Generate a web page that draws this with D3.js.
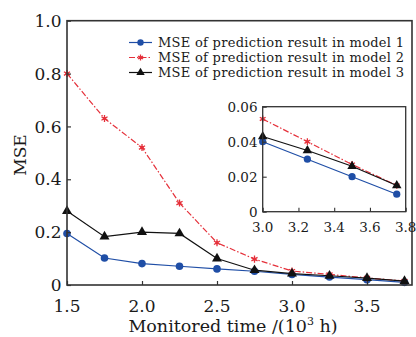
<!DOCTYPE html>
<html>
<head>
<meta charset="utf-8">
<script src="https://cdn.jsdelivr.net/npm/d3@7"></script>
<style>
  body { margin: 0; background: #fff; }
  svg { display: block; font-family: "DejaVu Serif", serif; }
</style>
</head>
<body>
<div id="chart"></div>
<script>
"use strict";

const times = [1.5, 1.75, 2.0, 2.25, 2.5, 2.75, 3.0, 3.25, 3.5, 3.75];
const model1 = [0.195, 0.102, 0.081, 0.071, 0.061, 0.052, 0.040, 0.030, 0.020, 0.010];
const model2 = [0.80, 0.63, 0.52, 0.31, 0.160, 0.098, 0.053, 0.040, 0.027, 0.015];
const model3 = [0.28, 0.183, 0.20, 0.195, 0.100, 0.056, 0.043, 0.035, 0.026, 0.015];
const seriesNames = [
  "MSE of prediction result in model 1",
  "MSE of prediction result in model 2",
  "MSE of prediction result in model 3"
];
const xTicks = [1.5, 2.0, 2.5, 3.0, 3.5];
const yTicks = [0, 0.2, 0.4, 0.6, 0.8, 1.0];
const insetXTicks = [3.0, 3.2, 3.4, 3.6, 3.8];
const insetYTicks = [0, 0.02, 0.04, 0.06];

const width = 416;
const height = 337;
const frameColor = "#333";
const textColor = "#1a1a1a";
const styles = [
  { color: "#1f4ea6", dash: null, marker: "circle" },
  { color: "#e5303a", dash: "6,2,1.5,2", marker: "star" },
  { color: "#111", dash: null, marker: "triangle" }
];
const allSeries = [model1, model2, model3];

const svg = d3.select("#chart")
  .append("svg")
  .attr("width", width)
  .attr("height", height)
;

// main plot area
const m = { left: 67, right: 412, top: 20.7, bottom: 285 };
const xScale = d3.scaleLinear().domain([1.5, 3.8]).range([m.left, m.right]);
const yScale = d3.scaleLinear().domain([0, 1]).range([m.bottom, m.top]);

function drawMarker(g, type, x, y, color, size) {
  if (type === "circle") {
    g.append("circle").attr("cx", x).attr("cy", y).attr("r", size).attr("fill", color);
  } else if (type === "triangle") {
    g.append("path")
      .attr("d", d3.symbol(d3.symbolTriangle, size * size * 3)())
      .attr("transform", `translate(${x},${y})`)
      .attr("fill", color);
  } else {
    g.append("path")
      .attr("d", d3.symbol(d3.symbolAsterisk, size * size * 2.4)())
      .attr("transform", `translate(${x},${y})`)
      .attr("stroke", color)
      .attr("stroke-width", 1.3)
      .attr("fill", "none");
    g.append("circle").attr("cx", x).attr("cy", y).attr("r", size * 0.45).attr("fill", color);
  }
}

function drawSeries(g, xs, ys, xS, yS, mSize) {
  ys.forEach((vals, i) => {
    const pts = xs.map((t, j) => [t, vals[j]]).filter(p => p[0] >= xS.domain()[0] - 1e-9);
    const line = d3.line().x(d => xS(d[0])).y(d => yS(d[1]));
    g.append("path")
      .datum(pts)
      .attr("d", line)
      .attr("fill", "none")
      .attr("stroke", styles[i].color)
      .attr("stroke-width", 1.2)
      .attr("stroke-dasharray", styles[i].dash);
    pts.forEach(p => drawMarker(g, styles[i].marker, xS(p[0]), yS(p[1]), styles[i].color, mSize));
  });
}

const mainG = svg.append("g");
drawSeries(mainG, times, allSeries, xScale, yScale, 3.8);

// axes with inward ticks
const xAxis = d3.axisTop(xScale).tickValues(xTicks).tickSize(4).tickFormat("");
const yAxis = d3.axisRight(yScale).tickValues(yTicks).tickSize(4).tickFormat("");
svg.append("g").attr("transform", `translate(0,${m.bottom})`).call(xAxis)
  .call(g => g.select(".domain").remove())
  .selectAll("line").attr("stroke", frameColor).attr("stroke-width", 1.2);
svg.append("g").attr("transform", `translate(${m.left},0)`).call(yAxis)
  .call(g => g.select(".domain").remove())
  .selectAll("line").attr("stroke", frameColor).attr("stroke-width", 1.2);

svg.append("rect")
  .attr("x", m.left).attr("y", m.top)
  .attr("width", m.right - m.left).attr("height", m.bottom - m.top)
  .attr("fill", "none").attr("stroke", frameColor).attr("stroke-width", 1.6);

svg.selectAll(".xlab")
  .data(xTicks)
  .enter()
  .append("text")
  .attr("x", d => xScale(d))
  .attr("y", 311.5)
  .attr("text-anchor", "middle")
  .attr("font-size", 17)
  .attr("fill", textColor)
  .text(d => d.toFixed(1));

svg.selectAll(".ylab")
  .data(yTicks)
  .enter()
  .append("text")
  .attr("x", 61.5)
  .attr("y", d => yScale(d) + 6.2)
  .attr("text-anchor", "end")
  .attr("font-size", 17)
  .attr("fill", textColor)
  .text(d => d === 0 ? "0" : d.toFixed(1));

svg.append("text")
  .attr("x", 233)
  .attr("y", 332)
  .attr("text-anchor", "middle")
  .attr("font-size", 17.5)
  .attr("fill", textColor)
  .html('Monitored time /(10<tspan font-size="11" dy="-7">3</tspan><tspan dy="7"> h)</tspan>');

svg.append("text")
  .attr("transform", "translate(26,155) rotate(-90)")
  .attr("text-anchor", "middle")
  .attr("font-size", 17)
  .attr("fill", textColor)
  .text("MSE");

// legend
const legend = svg.append("g");
seriesNames.forEach((name, i) => {
  const y = 42.5 + i * 15;
  legend.append("line")
    .attr("x1", 129).attr("x2", 152).attr("y1", y).attr("y2", y)
    .attr("stroke", styles[i].color).attr("stroke-width", 1.2)
    .attr("stroke-dasharray", styles[i].dash);
  drawMarker(legend, styles[i].marker, 140.5, y, styles[i].color, 3.2);
  legend.append("text")
    .attr("x", 158).attr("y", y + 4.8)
    .attr("font-size", 13)
    .attr("fill", textColor)
    .attr("textLength", 246)
    .text(name);
});

// inset
const im = { left: 262.7, right: 405.7, top: 106.7, bottom: 211.7 };
const ixScale = d3.scaleLinear().domain([3.0, 3.8]).range([im.left, im.right]);
const iyScale = d3.scaleLinear().domain([0, 0.06]).range([im.bottom, im.top]);

svg.append("rect")
  .attr("x", im.left).attr("y", im.top)
  .attr("width", im.right - im.left).attr("height", im.bottom - im.top)
  .attr("fill", "#fff");

const insetG = svg.append("g");
drawSeries(insetG, times, allSeries, ixScale, iyScale, 3.6);

svg.append("g").attr("transform", `translate(0,${im.bottom})`)
  .call(d3.axisTop(ixScale).tickValues(insetXTicks).tickSize(4).tickFormat(""))
  .call(g => g.select(".domain").remove())
  .selectAll("line").attr("stroke", frameColor).attr("stroke-width", 1.1);
svg.append("g").attr("transform", `translate(${im.left},0)`)
  .call(d3.axisRight(iyScale).tickValues(insetYTicks).tickSize(4).tickFormat(""))
  .call(g => g.select(".domain").remove())
  .selectAll("line").attr("stroke", frameColor).attr("stroke-width", 1.1);

svg.append("rect")
  .attr("x", im.left).attr("y", im.top)
  .attr("width", im.right - im.left).attr("height", im.bottom - im.top)
  .attr("fill", "none").attr("stroke", frameColor).attr("stroke-width", 1.3);

svg.selectAll(".ixlab")
  .data(insetXTicks)
  .enter()
  .append("text")
  .attr("x", d => ixScale(d))
  .attr("y", 232)
  .attr("text-anchor", "middle")
  .attr("font-size", 13.5)
  .attr("fill", textColor)
  .text(d => d.toFixed(1));

svg.selectAll(".iylab")
  .data(insetYTicks)
  .enter()
  .append("text")
  .attr("x", 257.5)
  .attr("y", d => iyScale(d) + 5)
  .attr("text-anchor", "end")
  .attr("font-size", 13.5)
  .attr("fill", textColor)
  .text(d => d === 0 ? "0" : d.toFixed(2));
</script>
</body>
</html>
